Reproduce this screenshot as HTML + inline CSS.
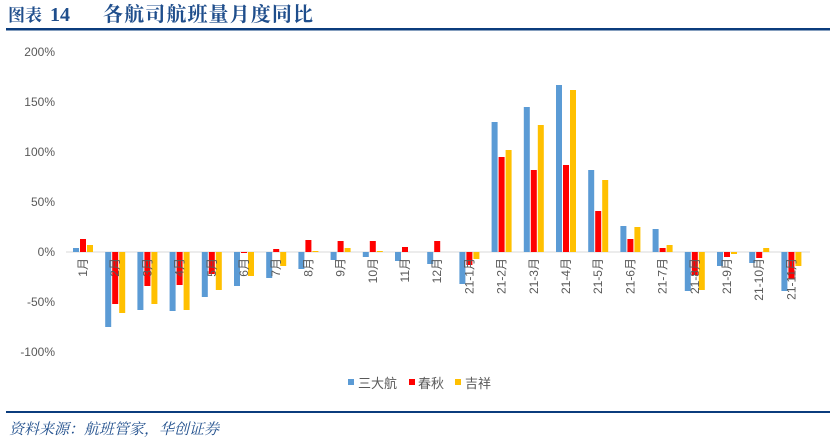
<!DOCTYPE html>
<html><head><meta charset="utf-8"><style>
body{margin:0;background:#fff;width:830px;height:443px;overflow:hidden;}
svg{display:block;font-family:"Liberation Sans","Noto Sans CJK SC",sans-serif;}
</style></head><body>
<svg width="830" height="443" viewBox="0 0 830 443">
<g font-family="'Liberation Serif','Noto Serif CJK SC',serif" font-weight="bold" font-size="20" fill="#1f4e8c">
<text x="8" y="21" font-size="17">图表</text><text x="50" y="21">14</text>
<text x="103" y="21" textLength="210">各航司航班量月度同比</text>
</g>
<rect x="6" y="28" width="824" height="2.5" fill="#0b3c7d"/>
<g font-size="12" fill="#595959" text-anchor="end">
<text x="55" y="56">200%</text><text x="55" y="106">150%</text><text x="55" y="156">100%</text>
<text x="55" y="206">50%</text><text x="55" y="256">0%</text><text x="55" y="306">-50%</text><text x="55" y="356">-100%</text>
</g>
<line x1="66" y1="252" x2="810" y2="252" stroke="#d9d9d9" stroke-width="1"/>
<g id="bars">
<g transform="translate(83,252) scale(1,-1)"><rect x="-10" y="0" width="6" height="4" fill="#5b9bd5"/><rect x="-3" y="0" width="6" height="13" fill="#ff0000"/><rect x="4" y="0" width="6" height="7" fill="#ffc000"/></g>
<g transform="translate(115.2,252) scale(1,-1)"><rect x="-10" y="-75" width="6" height="75" fill="#5b9bd5"/><rect x="-3" y="-52" width="6" height="52" fill="#ff0000"/><rect x="4" y="-61" width="6" height="61" fill="#ffc000"/></g>
<g transform="translate(147.4,252) scale(1,-1)"><rect x="-10" y="-58" width="6" height="58" fill="#5b9bd5"/><rect x="-3" y="-34" width="6" height="34" fill="#ff0000"/><rect x="4" y="-52" width="6" height="52" fill="#ffc000"/></g>
<g transform="translate(179.6,252) scale(1,-1)"><rect x="-10" y="-59" width="6" height="59" fill="#5b9bd5"/><rect x="-3" y="-33" width="6" height="33" fill="#ff0000"/><rect x="4" y="-58" width="6" height="58" fill="#ffc000"/></g>
<g transform="translate(211.8,252) scale(1,-1)"><rect x="-10" y="-45" width="6" height="45" fill="#5b9bd5"/><rect x="-3" y="-22" width="6" height="22" fill="#ff0000"/><rect x="4" y="-38" width="6" height="38" fill="#ffc000"/></g>
<g transform="translate(244,252) scale(1,-1)"><rect x="-10" y="-34" width="6" height="34" fill="#5b9bd5"/><rect x="-3" y="-1" width="6" height="1" fill="#ff0000"/><rect x="4" y="-24" width="6" height="24" fill="#ffc000"/></g>
<g transform="translate(276.2,252) scale(1,-1)"><rect x="-10" y="-26" width="6" height="26" fill="#5b9bd5"/><rect x="-3" y="0" width="6" height="3" fill="#ff0000"/><rect x="4" y="-14" width="6" height="14" fill="#ffc000"/></g>
<g transform="translate(308.4,252) scale(1,-1)"><rect x="-10" y="-17" width="6" height="17" fill="#5b9bd5"/><rect x="-3" y="0" width="6" height="12" fill="#ff0000"/><rect x="4" y="0" width="6" height="1" fill="#ffc000"/></g>
<g transform="translate(340.6,252) scale(1,-1)"><rect x="-10" y="-8" width="6" height="8" fill="#5b9bd5"/><rect x="-3" y="0" width="6" height="11" fill="#ff0000"/><rect x="4" y="0" width="6" height="4" fill="#ffc000"/></g>
<g transform="translate(372.8,252) scale(1,-1)"><rect x="-10" y="-5" width="6" height="5" fill="#5b9bd5"/><rect x="-3" y="0" width="6" height="11" fill="#ff0000"/><rect x="4" y="0" width="6" height="1" fill="#ffc000"/></g>
<g transform="translate(405,252) scale(1,-1)"><rect x="-10" y="-9" width="6" height="9" fill="#5b9bd5"/><rect x="-3" y="0" width="6" height="5" fill="#ff0000"/></g>
<g transform="translate(437.2,252) scale(1,-1)"><rect x="-10" y="-12" width="6" height="12" fill="#5b9bd5"/><rect x="-3" y="0" width="6" height="11" fill="#ff0000"/></g>
<g transform="translate(469.4,252) scale(1,-1)"><rect x="-10" y="-32" width="6" height="32" fill="#5b9bd5"/><rect x="-3" y="-13" width="6" height="13" fill="#ff0000"/><rect x="4" y="-7" width="6" height="7" fill="#ffc000"/></g>
<g transform="translate(501.6,252) scale(1,-1)"><rect x="-10" y="0" width="6" height="130" fill="#5b9bd5"/><rect x="-3" y="0" width="6" height="95" fill="#ff0000"/><rect x="4" y="0" width="6" height="102" fill="#ffc000"/></g>
<g transform="translate(533.8,252) scale(1,-1)"><rect x="-10" y="0" width="6" height="145" fill="#5b9bd5"/><rect x="-3" y="0" width="6" height="82" fill="#ff0000"/><rect x="4" y="0" width="6" height="127" fill="#ffc000"/></g>
<g transform="translate(566,252) scale(1,-1)"><rect x="-10" y="0" width="6" height="167" fill="#5b9bd5"/><rect x="-3" y="0" width="6" height="87" fill="#ff0000"/><rect x="4" y="0" width="6" height="162" fill="#ffc000"/></g>
<g transform="translate(598.2,252) scale(1,-1)"><rect x="-10" y="0" width="6" height="82" fill="#5b9bd5"/><rect x="-3" y="0" width="6" height="41" fill="#ff0000"/><rect x="4" y="0" width="6" height="72" fill="#ffc000"/></g>
<g transform="translate(630.4,252) scale(1,-1)"><rect x="-10" y="0" width="6" height="26" fill="#5b9bd5"/><rect x="-3" y="0" width="6" height="13" fill="#ff0000"/><rect x="4" y="0" width="6" height="25" fill="#ffc000"/></g>
<g transform="translate(662.6,252) scale(1,-1)"><rect x="-10" y="0" width="6" height="23" fill="#5b9bd5"/><rect x="-3" y="0" width="6" height="4" fill="#ff0000"/><rect x="4" y="0" width="6" height="7" fill="#ffc000"/></g>
<g transform="translate(694.8,252) scale(1,-1)"><rect x="-10" y="-39" width="6" height="39" fill="#5b9bd5"/><rect x="-3" y="-23" width="6" height="23" fill="#ff0000"/><rect x="4" y="-38" width="6" height="38" fill="#ffc000"/></g>
<g transform="translate(727,252) scale(1,-1)"><rect x="-10" y="-14" width="6" height="14" fill="#5b9bd5"/><rect x="-3" y="-5" width="6" height="5" fill="#ff0000"/><rect x="4" y="-2" width="6" height="2" fill="#ffc000"/></g>
<g transform="translate(759.2,252) scale(1,-1)"><rect x="-10" y="-11" width="6" height="11" fill="#5b9bd5"/><rect x="-3" y="-6" width="6" height="6" fill="#ff0000"/><rect x="4" y="0" width="6" height="4" fill="#ffc000"/></g>
<g transform="translate(791.4,252) scale(1,-1)"><rect x="-10" y="-39" width="6" height="39" fill="#5b9bd5"/><rect x="-3" y="-27" width="6" height="27" fill="#ff0000"/><rect x="4" y="-14" width="6" height="14" fill="#ffc000"/></g>
</g>
<g font-size="12" fill="#595959" text-anchor="end">
<text transform="translate(87,258) rotate(-90)">1月</text>
<text transform="translate(119.2,258) rotate(-90)">2月</text>
<text transform="translate(151.4,258) rotate(-90)">3月</text>
<text transform="translate(183.6,258) rotate(-90)">4月</text>
<text transform="translate(215.8,258) rotate(-90)">5月</text>
<text transform="translate(248,258) rotate(-90)">6月</text>
<text transform="translate(280.2,258) rotate(-90)">7月</text>
<text transform="translate(312.4,258) rotate(-90)">8月</text>
<text transform="translate(344.6,258) rotate(-90)">9月</text>
<text transform="translate(376.8,258) rotate(-90)">10月</text>
<text transform="translate(409,258) rotate(-90)">11月</text>
<text transform="translate(441.2,258) rotate(-90)">12月</text>
<text transform="translate(473.4,258) rotate(-90)">21-1月</text>
<text transform="translate(505.6,258) rotate(-90)">21-2月</text>
<text transform="translate(537.8,258) rotate(-90)">21-3月</text>
<text transform="translate(570,258) rotate(-90)">21-4月</text>
<text transform="translate(602.2,258) rotate(-90)">21-5月</text>
<text transform="translate(634.4,258) rotate(-90)">21-6月</text>
<text transform="translate(666.6,258) rotate(-90)">21-7月</text>
<text transform="translate(698.8,258) rotate(-90)">21-8月</text>
<text transform="translate(731,258) rotate(-90)">21-9月</text>
<text transform="translate(763.2,258) rotate(-90)">21-10月</text>
<text transform="translate(795.4,258) rotate(-90)">21-11月</text>
</g>
<g font-size="13" fill="#595959">
<rect x="348" y="379" width="6" height="6" fill="#5b9bd5"/><text x="358" y="388">三大航</text>
<rect x="409" y="379" width="6" height="6" fill="#ff0000"/><text x="418" y="388">春秋</text>
<rect x="455" y="379" width="6" height="6" fill="#ffc000"/><text x="465" y="388">吉祥</text>
</g>
<rect x="6" y="411" width="824" height="2" fill="#0b3c7d"/>
<text x="9" y="434" font-family="'Liberation Serif','Noto Serif CJK SC',serif" font-style="italic" font-size="15" fill="#1f4e8c">资料来源：航班管家，华创证券</text>
</svg>
</body></html>
